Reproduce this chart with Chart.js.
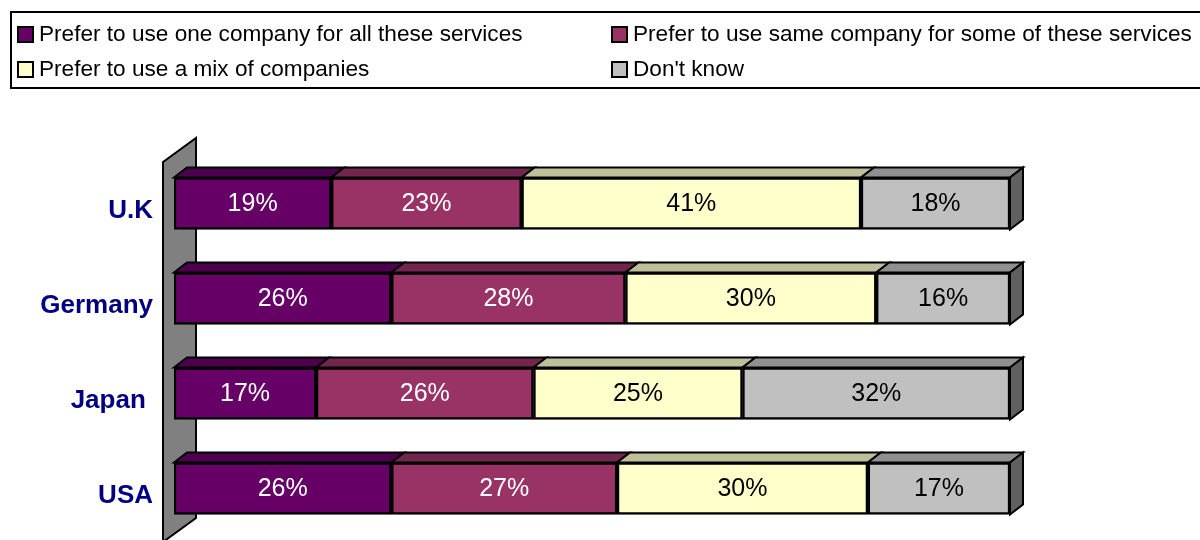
<!DOCTYPE html>
<html>
<head>
<meta charset="utf-8">
<script src="https://cdn.jsdelivr.net/npm/chart.js@4.4.0/dist/chart.umd.min.js"></script>
<style>
    body { margin: 0; background: #ffffff; }
    #wrap { position: relative; width: 1200px; height: 540px; overflow: hidden; font-family: "Liberation Sans", Arial, sans-serif; }
    #chart { position: absolute; left: 0; top: 0; }
    #legend { position: absolute; left: 10px; top: 11px; width: 1200px; height: 74px; border: 2px solid #000; box-sizing: content-box; }
    .item { position: absolute; font-size: 22.6px; color: #000; line-height: 22px; white-space: nowrap; }
    .item span.box { position: absolute; left: 0; top: 3px; width: 13px; height: 13px; border: 2px solid #000; }
    .item span.txt { position: absolute; left: 22px; top: 0; }
</style>
</head>
<body>
<div id="wrap">
    <canvas id="chart" width="1200" height="540"></canvas>
    <div id="legend"></div>
</div>
<script>
// Countries (the trailing space on Japan is part of the label)
const countries = ["U.K", "Germany", "Japan ", "USA"];

// Answer categories
const answers = [
    "Prefer to use one company for all these services",
    "Prefer to use same company for some of these services",
    "Prefer to use a mix of companies",
    "Don't know"
];

// Survey results in %, one array per answer, in country order
const oneCompany  = [19, 26, 17, 26];
const someSame    = [23, 28, 26, 27];
const mixCompany  = [41, 30, 25, 30];
const dontKnow    = [18, 16, 32, 17];

// Colors
const COLOR_ONE = "#660066";
const COLOR_SOME = "#993366";
const COLOR_MIX = "#FFFFCC";
const COLOR_DK = "#C0C0C0";
const LABEL_COLORS = ["#ffffff", "#ffffff", "#000000", "#000000"];

const seriesValues = [oneCompany, someSame, mixCompany, dontKnow];
const seriesColors = [COLOR_ONE, COLOR_SOME, COLOR_MIX, COLOR_DK];

// 100% stacked: each row is scaled to its own total
const rowTotals = countries.map((c, i) => seriesValues.reduce((s, arr) => s + arr[i], 0));

function shade(hex, f) {
    const n = parseInt(hex.slice(1), 16);
    const r = Math.round(((n >> 16) & 255) * f);
    const g = Math.round(((n >> 8) & 255) * f);
    const b = Math.round((n & 255) * f);
    return "rgb(" + r + "," + g + "," + b + ")";
}

// HTML legend in a framed box, two columns
const legendPos = [[5, 10], [599, 10], [5, 45], [599, 45]];
const legendEl = document.getElementById("legend");
answers.forEach((name, i) => {
    const d = document.createElement("div");
    d.className = "item";
    d.style.left = legendPos[i][0] + "px";
    d.style.top = legendPos[i][1] + "px";
    d.innerHTML = '<span class="box" style="background:' + seriesColors[i] + '"></span><span class="txt"></span>';
    d.querySelector(".txt").textContent = name;
    legendEl.appendChild(d);
});

const DEPTH_X = 13;
const DEPTH_Y = 10;

// Draws the side wall, the 3D faces of the bars and all the labels
const bar3d = {
    id: "bar3d",
    beforeDatasetsDraw(chart) {
        const ctx = chart.ctx;
        const a = chart.chartArea;
        ctx.save();
        ctx.beginPath();
        ctx.moveTo(a.left - 11, a.top + 6);
        ctx.lineTo(a.left + 22, a.top - 18);
        ctx.lineTo(a.left + 22, a.bottom - 18);
        ctx.lineTo(a.left - 11, a.bottom + 6);
        ctx.closePath();
        ctx.fillStyle = "#808080";
        ctx.fill();
        ctx.lineWidth = 2;
        ctx.strokeStyle = "#000";
        ctx.stroke();
        ctx.restore();
    },
    afterDatasetsDraw(chart) {
        const ctx = chart.ctx;
        ctx.save();
        ctx.lineWidth = 2;
        ctx.strokeStyle = "#000";
        ctx.lineJoin = "miter";
        const nSeries = chart.data.datasets.length;
        for (let ds = 0; ds < nSeries; ds++) {
            const meta = chart.getDatasetMeta(ds);
            meta.data.forEach((bar, idx) => {
                const p = bar.getProps(["x", "y", "base", "height"], true);
                const x0 = p.base, x1 = p.x;
                const top = p.y - p.height / 2, bottom = p.y + p.height / 2;
                // top face
                ctx.beginPath();
                ctx.moveTo(x0, top);
                ctx.lineTo(x0 + DEPTH_X, top - DEPTH_Y);
                ctx.lineTo(x1 + DEPTH_X, top - DEPTH_Y);
                ctx.lineTo(x1, top);
                ctx.closePath();
                ctx.fillStyle = shade(seriesColors[ds], 0.75);
                ctx.fill();
                ctx.stroke();
                // right side face on the last segment
                if (ds === nSeries - 1) {
                    ctx.beginPath();
                    ctx.moveTo(x1, top);
                    ctx.lineTo(x1 + DEPTH_X, top - DEPTH_Y);
                    ctx.lineTo(x1 + DEPTH_X, bottom - DEPTH_Y);
                    ctx.lineTo(x1, bottom);
                    ctx.closePath();
                    ctx.fillStyle = shade(seriesColors[ds], 0.5);
                    ctx.fill();
                    ctx.stroke();
                }
                // value label
                ctx.fillStyle = LABEL_COLORS[ds];
                ctx.font = "25px 'Liberation Sans', Arial, sans-serif";
                ctx.textAlign = "center";
                ctx.textBaseline = "middle";
                ctx.fillText(seriesValues[ds][idx] + "%", (x0 + x1) / 2, p.y + 1);
            });
        }
        // country labels
        const meta0 = chart.getDatasetMeta(0);
        ctx.fillStyle = "#000080";
        ctx.font = "bold 26px 'Liberation Sans', Arial, sans-serif";
        ctx.textAlign = "right";
        ctx.textBaseline = "middle";
        meta0.data.forEach((bar, idx) => {
            ctx.fillText(countries[idx], 153, bar.y + 7);
        });
        ctx.restore();
    }
};

const chart_data = {
    labels: countries,
    datasets: seriesValues.map((vals, s) => ({
        label: answers[s],
        data: vals.map((v, i) => v / rowTotals[i] * 100),
        backgroundColor: seriesColors[s],
        borderColor: "#000",
        borderWidth: 2.5,
        borderSkipped: false,
        barThickness: 52
    }))
};

new Chart("chart", {
    type: "bar",
    data: chart_data,
    options: {
        indexAxis: "y",
        responsive: false,
        animation: false,
        layout: {
            padding: { left: 174, right: 190, top: 156, bottom: 4 }
        },
        plugins: {
            legend: { display: false },
            tooltip: { enabled: false }
        },
        scales: {
            x: { stacked: true, min: 0, max: 100, display: false },
            y: { stacked: true, display: false }
        }
    },
    plugins: [bar3d]
});
</script>
</body>
</html>
